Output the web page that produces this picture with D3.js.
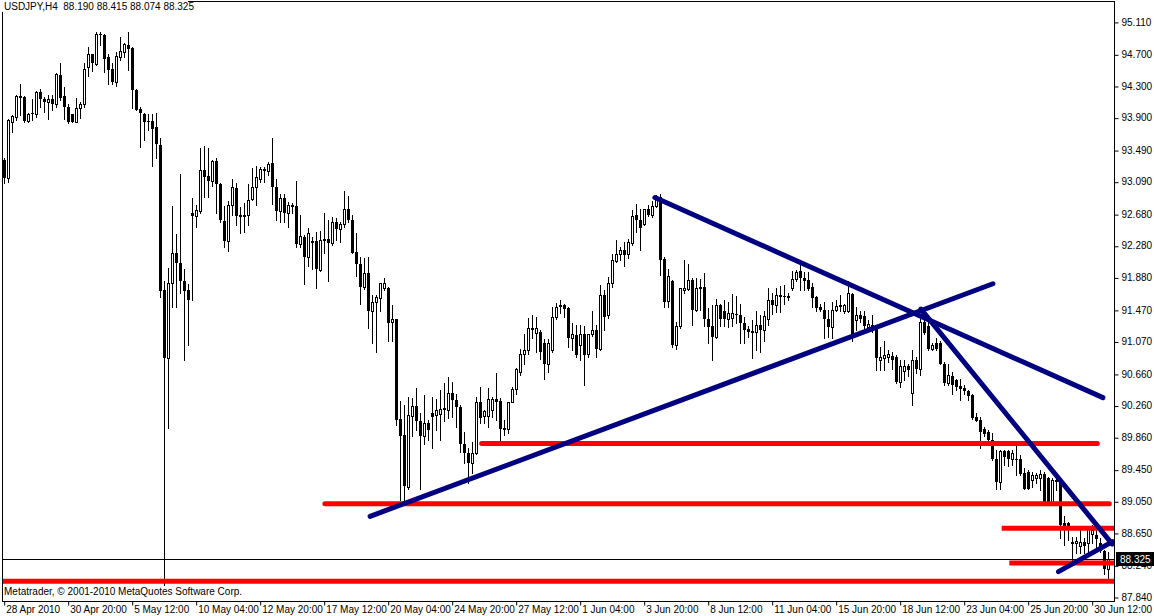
<!DOCTYPE html>
<html><head><meta charset="utf-8">
<script src="https://cdn.jsdelivr.net/npm/d3@7"></script>
<style>
html,body{margin:0;padding:0;background:#fff;}
svg{display:block;}
text{font-family:"Liberation Sans",Arial,sans-serif;font-size:10px;fill:#000;}
</style>
</head><body>
<svg id="chart" width="1154" height="616"></svg>
<script>
// ---------- data ----------
const symbolTitle = "USDJPY,H4";
const lastQuote = [88.190, 88.415, 88.074, 88.325];
const copyright = "Metatrader, \u00A9 2001-2010 MetaQuotes Software Corp.";

const openP = [
93.36,93.14,93.85,93.91,94.17,94.16,93.86,93.96,93.94,94.23,94.13,94.10,94.13,94.07,94.44,94.17,94.04,93.94,93.85,94.02,
94.07,94.54,94.70,94.58,94.96,94.94,94.67,94.52,94.35,94.67,94.73,94.82,94.78,94.25,94.01,93.95,93.86,93.86,93.78,93.55,
91.72,90.86,91.81,92.19,92.06,91.83,91.72,92.70,92.66,92.72,93.24,93.16,93.10,93.35,93.06,92.59,92.34,92.80,93.01,92.67,
92.66,92.67,92.87,93.02,93.13,93.25,93.23,93.32,93.02,92.72,92.88,92.69,92.80,92.78,92.30,92.39,92.14,92.34,92.34,91.98,
92.36,92.36,92.31,92.58,92.49,92.55,92.74,92.61,92.20,92.05,91.76,91.94,91.46,91.57,91.62,91.74,91.74,91.32,91.35,90.09,
89.89,89.23,90.13,90.25,90.06,89.88,90.04,90.17,90.14,90.15,90.23,90.21,90.42,90.33,90.24,89.77,89.66,89.54,89.66,90.30,
90.13,90.13,90.20,90.34,90.32,89.97,89.97,90.31,90.47,90.69,90.91,90.96,91.24,91.18,91.19,91.05,90.79,90.96,91.38,91.53,
91.53,91.49,91.11,91.15,91.03,91.16,90.91,91.16,91.22,90.98,91.66,91.40,91.81,92.09,92.18,92.23,92.18,92.31,92.67,92.61,
92.56,92.74,92.67,92.78,92.90,92.11,91.58,91.83,91.03,91.26,91.72,91.73,91.85,91.47,91.74,91.76,91.35,91.26,91.13,91.53,
91.45,91.36,91.37,91.42,91.41,91.31,91.23,91.19,91.19,91.28,91.22,91.36,91.60,91.53,91.66,91.64,91.63,91.75,91.86,91.96,
91.87,91.85,91.76,91.63,91.50,91.47,91.36,91.25,91.47,91.53,91.46,91.46,91.67,91.34,91.40,91.39,91.25,91.28,91.27,90.84,
90.86,90.88,90.89,90.88,90.56,90.70,90.76,90.42,90.84,90.72,91.32,91.27,90.98,91.05,91.05,90.79,90.55,90.63,90.58,90.51,
90.48,90.44,90.39,90.11,90.08,89.97,89.92,89.83,89.59,89.30,89.69,89.69,89.59,89.59,89.59,89.41,89.42,89.32,89.34,89.34,
89.40,89.34,89.04,89.32,89.33,88.77,88.77,88.52,88.52,88.48,88.54,88.52,88.64,88.62,88.52,88.42,88.190];

const highP = [
93.39,93.88,93.93,94.19,94.33,94.17,93.96,94.14,94.24,94.26,94.16,94.19,94.19,94.47,94.59,94.29,94.07,93.95,94.15,94.10,
94.59,94.79,94.71,94.98,94.98,94.96,94.70,94.59,94.73,94.92,94.84,94.98,94.79,94.26,94.03,93.96,93.95,93.95,93.96,93.64,
91.83,92.00,92.78,92.43,93.19,91.99,91.80,92.88,92.80,93.51,93.54,93.51,93.36,93.39,93.07,92.78,92.84,93.13,93.07,92.77,
92.82,93.06,93.26,93.29,93.28,93.28,93.34,93.64,93.12,92.94,92.94,92.83,92.82,93.10,92.67,92.42,92.50,92.39,92.46,92.47,
92.69,92.60,92.65,92.63,92.58,92.97,92.91,92.67,92.44,92.14,92.12,92.14,91.66,91.66,91.81,91.87,91.76,91.53,91.36,90.32,
90.27,90.37,90.36,90.48,90.16,90.39,90.08,90.37,90.34,90.46,90.54,90.62,90.56,90.41,90.27,89.93,89.72,89.80,90.37,90.50,
90.21,90.48,90.37,90.67,90.35,90.08,90.31,90.49,90.73,90.97,91.17,91.37,91.41,91.38,91.22,91.10,91.10,91.51,91.56,91.60,
91.55,91.51,91.30,91.28,91.28,91.26,91.16,91.45,91.28,91.78,91.72,91.88,92.18,92.35,92.27,92.33,92.36,92.73,92.81,92.74,
92.75,92.80,92.84,92.92,92.94,92.14,91.99,91.85,91.32,91.75,92.10,92.05,91.87,91.87,91.86,91.93,91.49,91.53,91.61,91.55,
91.59,91.57,91.67,91.64,91.55,91.38,91.26,91.34,91.45,91.40,91.45,91.74,91.68,91.75,91.77,91.78,91.68,91.96,91.97,92.10,
91.95,91.95,91.81,91.64,91.55,91.57,91.47,91.57,91.59,91.66,91.55,91.83,91.68,91.51,91.45,91.45,91.34,91.40,91.27,91.00,
91.07,90.96,90.94,90.90,90.83,90.83,90.79,90.96,90.88,91.35,91.47,91.32,91.05,91.11,91.07,90.81,90.79,90.69,90.60,90.59,
90.52,90.46,90.40,90.16,90.12,89.99,89.95,89.91,89.70,89.70,89.70,89.70,89.70,89.78,89.63,89.47,89.45,89.42,89.41,89.45,
89.42,89.36,89.34,89.37,89.34,88.86,88.79,88.60,88.60,88.69,88.58,88.72,88.75,88.69,88.58,88.43,88.415];

const lowP = [
93.07,93.09,93.72,93.87,93.93,93.85,93.85,93.87,93.91,94.04,93.97,93.88,94.00,94.03,94.12,93.88,93.83,93.84,93.84,93.90,
94.04,94.43,94.49,94.57,94.82,94.48,94.33,94.33,94.30,94.63,94.67,94.50,94.02,93.99,93.53,93.62,93.74,93.29,93.39,91.63,
87.95,89.98,91.51,91.51,91.68,90.83,91.03,91.59,92.52,92.69,92.90,92.90,93.04,92.69,92.58,92.26,92.21,92.67,92.54,92.44,
92.45,92.54,92.86,92.80,93.08,93.08,93.18,92.81,92.61,92.58,92.58,92.52,92.69,92.27,92.27,91.80,92.03,91.99,91.75,91.96,
92.19,91.83,92.29,92.35,92.33,92.52,92.58,92.19,91.90,91.54,91.73,91.24,91.05,90.94,91.45,91.72,91.07,91.07,90.01,89.07,
89.07,89.21,89.87,89.95,89.21,89.78,89.83,89.72,89.95,89.82,90.06,90.10,90.12,89.99,89.67,89.54,89.28,89.41,89.65,90.04,
90.04,89.99,90.12,90.08,89.80,89.89,89.91,90.30,90.41,90.65,90.79,90.91,91.11,90.94,90.85,90.59,90.68,90.94,91.36,91.43,
91.38,91.00,90.96,90.88,90.84,90.52,90.87,91.14,90.87,90.96,91.22,91.37,91.76,92.08,92.10,92.02,92.12,92.29,92.46,92.23,
92.54,92.66,92.65,92.77,91.91,91.51,91.51,91.00,90.98,91.24,91.68,91.72,91.28,91.45,91.47,91.26,91.05,90.84,91.11,91.26,
91.26,91.25,91.26,91.30,91.05,91.05,91.13,90.86,90.96,90.94,91.07,91.28,91.42,91.44,91.44,91.55,91.59,91.72,91.83,91.72,
91.72,91.72,91.51,91.45,91.45,91.11,91.13,91.11,91.45,91.45,91.43,91.44,91.07,91.22,91.32,91.22,91.22,91.19,90.71,90.71,
90.71,90.81,90.72,90.54,90.50,90.58,90.63,90.27,90.67,90.65,91.17,90.96,90.96,90.96,90.79,90.52,90.52,90.41,90.46,90.33,
90.41,90.33,90.09,90.06,89.72,89.87,89.76,89.57,89.21,89.21,89.51,89.49,89.51,89.38,89.38,89.20,89.20,89.23,89.28,89.19,
89.04,89.02,89.03,89.19,88.58,88.50,88.56,88.29,88.39,88.39,88.39,88.41,88.52,88.46,88.41,88.13,88.074];

const closeP = [
93.14,93.87,93.92,94.17,94.15,93.86,93.95,93.95,94.23,94.13,94.10,94.13,94.07,94.45,94.15,94.04,93.84,93.85,94.02,94.07,
94.52,94.70,94.59,94.96,94.94,94.64,94.50,94.35,94.68,94.74,94.83,94.77,94.25,94.00,93.96,93.84,93.84,93.76,93.57,91.71,
90.86,91.81,92.19,92.06,91.84,91.71,91.59,92.66,92.73,93.24,93.15,93.10,93.35,93.06,92.60,92.34,92.79,93.02,92.66,92.65,
92.67,92.86,93.02,93.15,93.25,93.22,93.31,93.02,92.72,92.88,92.69,92.80,92.77,92.30,92.40,92.14,92.44,92.32,91.99,92.35,
92.34,92.31,92.58,92.49,92.56,92.74,92.60,92.19,92.05,91.76,91.94,91.46,91.57,91.63,91.81,91.81,91.31,91.35,90.08,89.87,
89.24,90.14,90.25,90.07,89.87,90.04,89.95,90.11,90.20,90.22,90.20,90.42,90.33,90.24,89.77,89.66,89.53,89.66,90.30,90.10,
90.19,90.34,90.34,90.31,89.97,89.98,90.30,90.47,90.72,90.91,90.96,91.24,91.22,91.24,90.94,90.79,91.05,91.38,91.51,91.51,
91.48,91.11,91.16,90.90,91.16,90.90,91.16,91.22,90.98,91.66,91.38,91.81,92.10,92.18,92.23,92.16,92.33,92.66,92.61,92.50,
92.74,92.67,92.78,92.89,92.10,91.57,91.90,91.03,91.26,91.74,91.74,91.85,91.47,91.75,91.76,91.35,91.25,91.13,91.53,91.36,
91.36,91.43,91.43,91.41,91.31,91.22,91.19,91.20,91.28,91.22,91.39,91.60,91.53,91.66,91.63,91.63,91.64,91.86,91.95,91.87,
91.84,91.73,91.62,91.49,91.47,91.36,91.25,91.47,91.52,91.51,91.53,91.68,91.11,91.40,91.35,91.26,91.29,91.25,90.86,90.88,
90.90,90.91,90.84,90.56,90.76,90.76,90.71,90.84,90.72,91.32,91.18,90.97,91.03,90.98,90.79,90.55,90.65,90.52,90.50,90.47,
90.44,90.38,90.10,90.07,89.93,89.90,89.83,89.58,89.30,89.68,89.61,89.59,89.66,89.57,89.40,89.21,89.21,89.38,89.38,89.40,
89.04,89.04,89.32,89.29,88.75,88.74,88.69,88.54,88.55,88.53,88.48,88.70,88.69,88.57,88.42,88.19,88.325];

const xTickBars = [0,16,32,48,64,80,96,112,128,144,160,176,192,208,224,240,256,272];
const xTickLabels = ["28 Apr 2010","30 Apr 20:00","5 May 12:00","10 May 04:00","12 May 20:00","17 May 12:00",
  "20 May 04:00","24 May 20:00","27 May 12:00","1 Jun 04:00","3 Jun 20:00","8 Jun 12:00","11 Jun 04:00",
  "15 Jun 20:00","18 Jun 12:00","23 Jun 04:00","25 Jun 20:00","30 Jun 12:00"];
const yTickValues = [95.110,94.700,94.300,93.900,93.490,93.090,92.680,92.280,91.880,91.470,91.070,
  90.660,90.260,89.860,89.450,89.050,88.650,88.240,87.840];

// horizontal (red) levels: price, start bar, end bar (null = chart edge)
const levelPrice = [89.78, 89.02, 88.71, 88.27, 88.04];
const levelFrom  = [119.5, 80.3, 249.5, 251.4, null];
const levelTo    = [273.4, 276.4, null, null, null];

// trend lines (navy): anchor bars and prices
const trendBar1   = [91.6, 162.8, 229.3, 263.7];
const trendPrice1 = [88.86, 92.89, 91.48, 88.16];
const trendBar2   = [247.3, 274.8, 277.1, 277.2];
const trendPrice2 = [91.80, 90.36, 88.51, 88.54];

// ---------- drawing ----------
const W = 1154, H = 616;
const L = 2, R = 1114, T = 1, B = 601;
const svg = d3.select("#chart");
svg.append("rect").attr("width", W).attr("height", H).attr("fill", "#fff");

const x = d3.scaleLinear().domain([0, 276]).range([3.7, 1107.7]);
const y = d3.scaleLinear().domain([87.84, 95.11]).range([597, 21.9]);

const plot = svg.append("g");
const clipId = "plotclip";
svg.append("clipPath").attr("id", clipId).append("rect")
  .attr("x", L).attr("y", T).attr("width", R - L).attr("height", B - T);
plot.attr("clip-path", `url(#${clipId})`);

// current price line
const lastClose = lastQuote[3];
const pyLine = Math.round(y(lastClose)) + 0.5;
plot.append("line").attr("x1", L).attr("x2", R).attr("y1", pyLine).attr("y2", pyLine)
  .attr("stroke", "#000").attr("stroke-width", 1);

// candles
const idx = d3.range(openP.length);
const cg = plot.append("g");
idx.forEach(i => {
  const o = openP[i], h = highP[i], l = lowP[i], c = closeP[i];
  const cx = Math.round(x(i));
  cg.append("line").attr("x1", cx + 0.5).attr("x2", cx + 0.5)
    .attr("y1", Math.round(y(h))).attr("y2", Math.round(y(l)) + 1)
    .attr("stroke", "#000").attr("stroke-width", 1);
  const top = Math.round(y(Math.max(o, c)));
  const bot = Math.round(y(Math.min(o, c)));
  if (c > o && bot - top >= 1) {
    cg.append("rect").attr("x", cx - 0.5).attr("y", top + 0.5)
      .attr("width", 2).attr("height", bot - top)
      .attr("fill", "#fff").attr("stroke", "#000").attr("stroke-width", 1);
  } else {
    cg.append("rect").attr("x", cx - 1).attr("y", top)
      .attr("width", 3).attr("height", Math.max(bot - top, 1))
      .attr("fill", "#000");
  }
});

// red levels
levelPrice.forEach((p, k) => {
  const xa = levelFrom[k] == null ? L : x(levelFrom[k]);
  const xb = levelTo[k] == null ? R + 3 : x(levelTo[k]);
  plot.append("line").attr("x1", xa).attr("x2", xb).attr("y1", y(p)).attr("y2", y(p))
    .attr("stroke", "#ff0000").attr("stroke-width", 5)
    .attr("stroke-linecap", levelTo[k] == null ? "butt" : "round");
});

// navy trend lines
trendBar1.forEach((b, k) => {
  plot.append("line")
    .attr("x1", x(b)).attr("y1", y(trendPrice1[k]))
    .attr("x2", x(trendBar2[k])).attr("y2", y(trendPrice2[k]))
    .attr("stroke", "#000080").attr("stroke-width", 5).attr("stroke-linecap", "round");
});

// frame
svg.append("rect").attr("x", L + 0.5).attr("y", T + 0.5).attr("width", R - L).attr("height", B - T)
  .attr("fill", "none").attr("stroke", "#000").attr("stroke-width", 1);

// header
svg.append("rect").attr("x", 0).attr("y", 0).attr("width", 188).attr("height", 12).attr("fill", "#fff");
svg.append("text").attr("x", 4).attr("y", 10).style("white-space", "pre")
  .text(symbolTitle + "  " + lastQuote.map(v => v.toFixed(3)).join(" "));

// copyright
svg.append("rect").attr("x", 3).attr("y", 586).attr("width", 246).attr("height", 13).attr("fill", "#fff");
svg.append("text").attr("x", 4).attr("y", 595).text(copyright);

// right axis
const yAxis = d3.axisRight(y).tickValues(yTickValues).tickFormat(d3.format(".3f"))
  .tickSize(4).tickSizeOuter(0).tickPadding(3);
const ya = svg.append("g").attr("transform", `translate(${R + 0.5},0)`).call(yAxis);
ya.select(".domain").remove();
ya.selectAll("line").attr("stroke", "#000").attr("transform", "translate(0,0.5)");
ya.selectAll("text").attr("font-family", "Liberation Sans, Arial, sans-serif").attr("font-size", 10).attr("fill", "#000");

// bottom axis
const xAxis = d3.axisBottom(x).tickValues(xTickBars).tickFormat((d, i) => xTickLabels[i])
  .tickSize(4).tickSizeOuter(0).tickPadding(2);
const xa = svg.append("g").attr("transform", `translate(0,${B + 0.5})`).call(xAxis);
xa.select(".domain").remove();
xa.selectAll(".tick line").attr("stroke", "#000").attr("transform", "translate(0.5,0)");
xa.selectAll("text").attr("text-anchor", "start").attr("dx", 2).attr("dy", "0.55em")
  .attr("font-family", "Liberation Sans, Arial, sans-serif").attr("font-size", 10).attr("fill", "#000");

// last price box (drawn over the nearby axis label, as in the terminal)
const by = Math.round(y(lastClose));
svg.append("rect").attr("x", R + 2).attr("y", by - 7).attr("width", 38).attr("height", 14).attr("fill", "#000");
svg.append("text").attr("x", R + 6).attr("y", by + 4).style("fill", "#fff")
  .text(lastClose.toFixed(3));
</script>
</body></html>
